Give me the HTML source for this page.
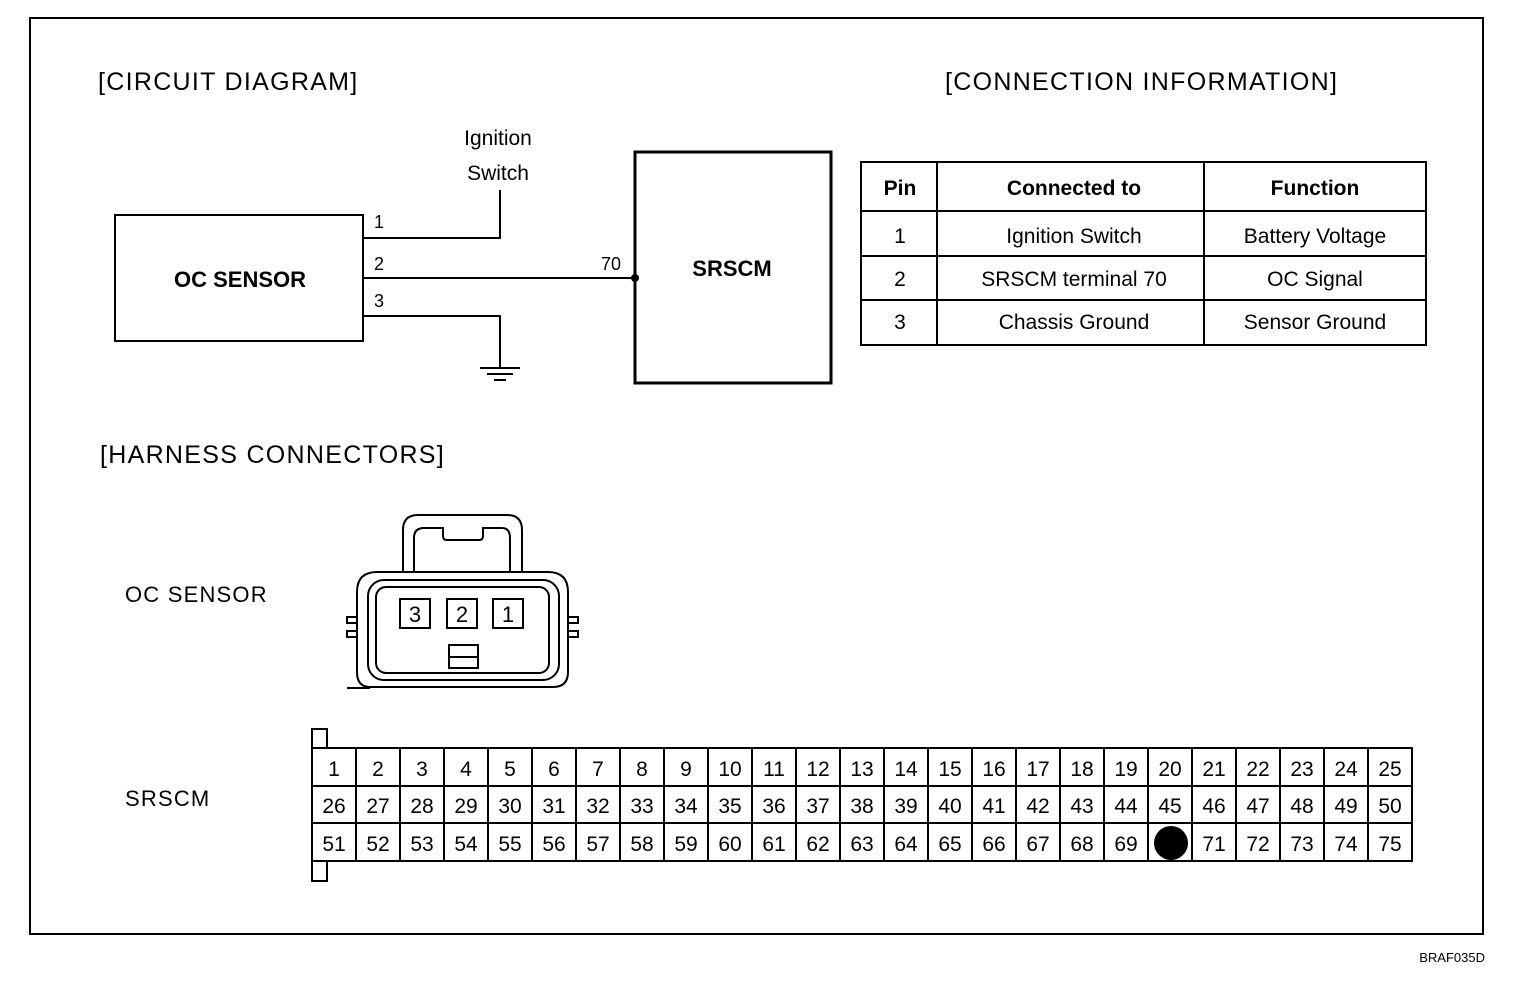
<!DOCTYPE html><html><head><style>body{margin:0;background:#fff}svg{display:block}text{font-family:"Liberation Sans",Arial,sans-serif;fill:#000}</style></head><body>
<svg width="1520" height="984" viewBox="0 0 1520 984" xmlns="http://www.w3.org/2000/svg">
<rect x="30" y="18" width="1453" height="916" fill="none" stroke="#000" stroke-width="2"/>
<g font-size="25" letter-spacing="1.3">
<text x="98" y="90">[CIRCUIT DIAGRAM]</text>
<text x="945" y="90">[CONNECTION INFORMATION]</text>
<text x="100" y="463">[HARNESS CONNECTORS]</text>
</g>
<g stroke="#000" stroke-width="2" fill="none">
<rect x="115" y="215" width="248" height="126"/>
<rect x="635" y="152" width="196" height="231" stroke-width="3"/>
<polyline points="363,238 500,238 500,190"/>
<line x1="363" y1="278" x2="635" y2="278"/>
<polyline points="363,316 500,316 500,367"/>
<line x1="480" y1="368" x2="520" y2="368"/><line x1="487" y1="374" x2="513" y2="374"/><line x1="494" y1="380" x2="506" y2="380"/>
</g>
<circle cx="635" cy="278" r="4"/>
<g font-size="21" text-anchor="middle"><text x="498" y="145">Ignition</text><text x="498" y="180">Switch</text></g>
<g font-size="18"><text x="374" y="228">1</text><text x="374" y="270">2</text><text x="374" y="307">3</text><text x="601" y="270">70</text></g>
<g font-size="22" font-weight="bold" text-anchor="middle"><text x="240" y="287">OC SENSOR</text><text x="732" y="276">SRSCM</text></g>
<g stroke="#000" stroke-width="2" fill="none">
<rect x="861" y="162" width="565" height="183"/>
<line x1="937" y1="162" x2="937" y2="345"/><line x1="1204" y1="162" x2="1204" y2="345"/>
<line x1="861" y1="211" x2="1426" y2="211"/><line x1="861" y1="256" x2="1426" y2="256"/><line x1="861" y1="300" x2="1426" y2="300"/>
</g>
<g font-size="21" text-anchor="middle">
<text x="900" y="195" font-weight="bold">Pin</text><text x="1074" y="195" font-weight="bold">Connected to</text><text x="1315" y="195" font-weight="bold">Function</text>
<text x="900" y="243">1</text><text x="1074" y="243">Ignition Switch</text><text x="1315" y="243">Battery Voltage</text>
<text x="900" y="286">2</text><text x="1074" y="286">SRSCM terminal 70</text><text x="1315" y="286">OC Signal</text>
<text x="900" y="329">3</text><text x="1074" y="329">Chassis Ground</text><text x="1315" y="329">Sensor Ground</text>
</g>
<g font-size="22" letter-spacing="1.2"><text x="125" y="602">OC SENSOR</text><text x="125" y="806">SRSCM</text></g>
<g stroke="#000" stroke-width="2" fill="none">
<path d="M403,572 V530 Q403,515 418,515 H507 Q522,515 522,530 V572"/>
<path d="M414,572 V538 Q414,528 424,528 H443 V536 Q443,540 447,540 H479 Q483,540 483,536 V528 H502 Q510,528 510,538 V572"/>
<path d="M370,687 Q357,687 357,672 V592 Q357,572 377,572 H548 Q568,572 568,592 V672 Q568,687 553,687 Z"/>
<rect x="368" y="580" width="191" height="100" rx="16"/>
<rect x="376" y="587" width="173" height="86" rx="10"/>
<path d="M357,617 H347 V623 H357 M357,631 H347 V637 H357"/>
<path d="M568,617 H578 V623 H568 M568,631 H578 V637 H568"/>
<line x1="347" y1="688" x2="370" y2="688"/>
<rect x="400" y="599" width="30" height="29"/><rect x="447" y="599" width="30" height="29"/><rect x="493" y="599" width="30" height="29"/>
<rect x="449" y="645" width="29" height="23"/><line x1="449" y1="657" x2="478" y2="657"/>
</g>
<g font-size="22" text-anchor="middle"><text x="415" y="622">3</text><text x="462" y="622">2</text><text x="508" y="622">1</text></g>
<g stroke="#000" stroke-width="2" fill="none">
<rect x="312" y="729" width="15" height="19"/><rect x="312" y="861" width="15" height="20"/>
<rect x="312" y="748" width="1100" height="113"/>
<line x1="312" y1="786" x2="1412" y2="786"/><line x1="312" y1="823" x2="1412" y2="823"/>
<path d="M356,748V861M400,748V861M444,748V861M488,748V861M532,748V861M576,748V861M620,748V861M664,748V861M708,748V861M752,748V861M796,748V861M840,748V861M884,748V861M928,748V861M972,748V861M1016,748V861M1060,748V861M1104,748V861M1148,748V861M1192,748V861M1236,748V861M1280,748V861M1324,748V861M1368,748V861"/>
</g>
<g font-size="21" text-anchor="middle">
<text x="334" y="776">1</text><text x="378" y="776">2</text><text x="422" y="776">3</text><text x="466" y="776">4</text><text x="510" y="776">5</text><text x="554" y="776">6</text><text x="598" y="776">7</text><text x="642" y="776">8</text><text x="686" y="776">9</text><text x="730" y="776">10</text><text x="774" y="776">11</text><text x="818" y="776">12</text><text x="862" y="776">13</text><text x="906" y="776">14</text><text x="950" y="776">15</text><text x="994" y="776">16</text><text x="1038" y="776">17</text><text x="1082" y="776">18</text><text x="1126" y="776">19</text><text x="1170" y="776">20</text><text x="1214" y="776">21</text><text x="1258" y="776">22</text><text x="1302" y="776">23</text><text x="1346" y="776">24</text><text x="1390" y="776">25</text>
<text x="334" y="813">26</text><text x="378" y="813">27</text><text x="422" y="813">28</text><text x="466" y="813">29</text><text x="510" y="813">30</text><text x="554" y="813">31</text><text x="598" y="813">32</text><text x="642" y="813">33</text><text x="686" y="813">34</text><text x="730" y="813">35</text><text x="774" y="813">36</text><text x="818" y="813">37</text><text x="862" y="813">38</text><text x="906" y="813">39</text><text x="950" y="813">40</text><text x="994" y="813">41</text><text x="1038" y="813">42</text><text x="1082" y="813">43</text><text x="1126" y="813">44</text><text x="1170" y="813">45</text><text x="1214" y="813">46</text><text x="1258" y="813">47</text><text x="1302" y="813">48</text><text x="1346" y="813">49</text><text x="1390" y="813">50</text>
<text x="334" y="851">51</text><text x="378" y="851">52</text><text x="422" y="851">53</text><text x="466" y="851">54</text><text x="510" y="851">55</text><text x="554" y="851">56</text><text x="598" y="851">57</text><text x="642" y="851">58</text><text x="686" y="851">59</text><text x="730" y="851">60</text><text x="774" y="851">61</text><text x="818" y="851">62</text><text x="862" y="851">63</text><text x="906" y="851">64</text><text x="950" y="851">65</text><text x="994" y="851">66</text><text x="1038" y="851">67</text><text x="1082" y="851">68</text><text x="1126" y="851">69</text><text x="1214" y="851">71</text><text x="1258" y="851">72</text><text x="1302" y="851">73</text><text x="1346" y="851">74</text><text x="1390" y="851">75</text>
</g>
<circle cx="1171" cy="843" r="17"/>
<text x="1485" y="962" font-size="13" text-anchor="end">BRAF035D</text>
</svg></body></html>
